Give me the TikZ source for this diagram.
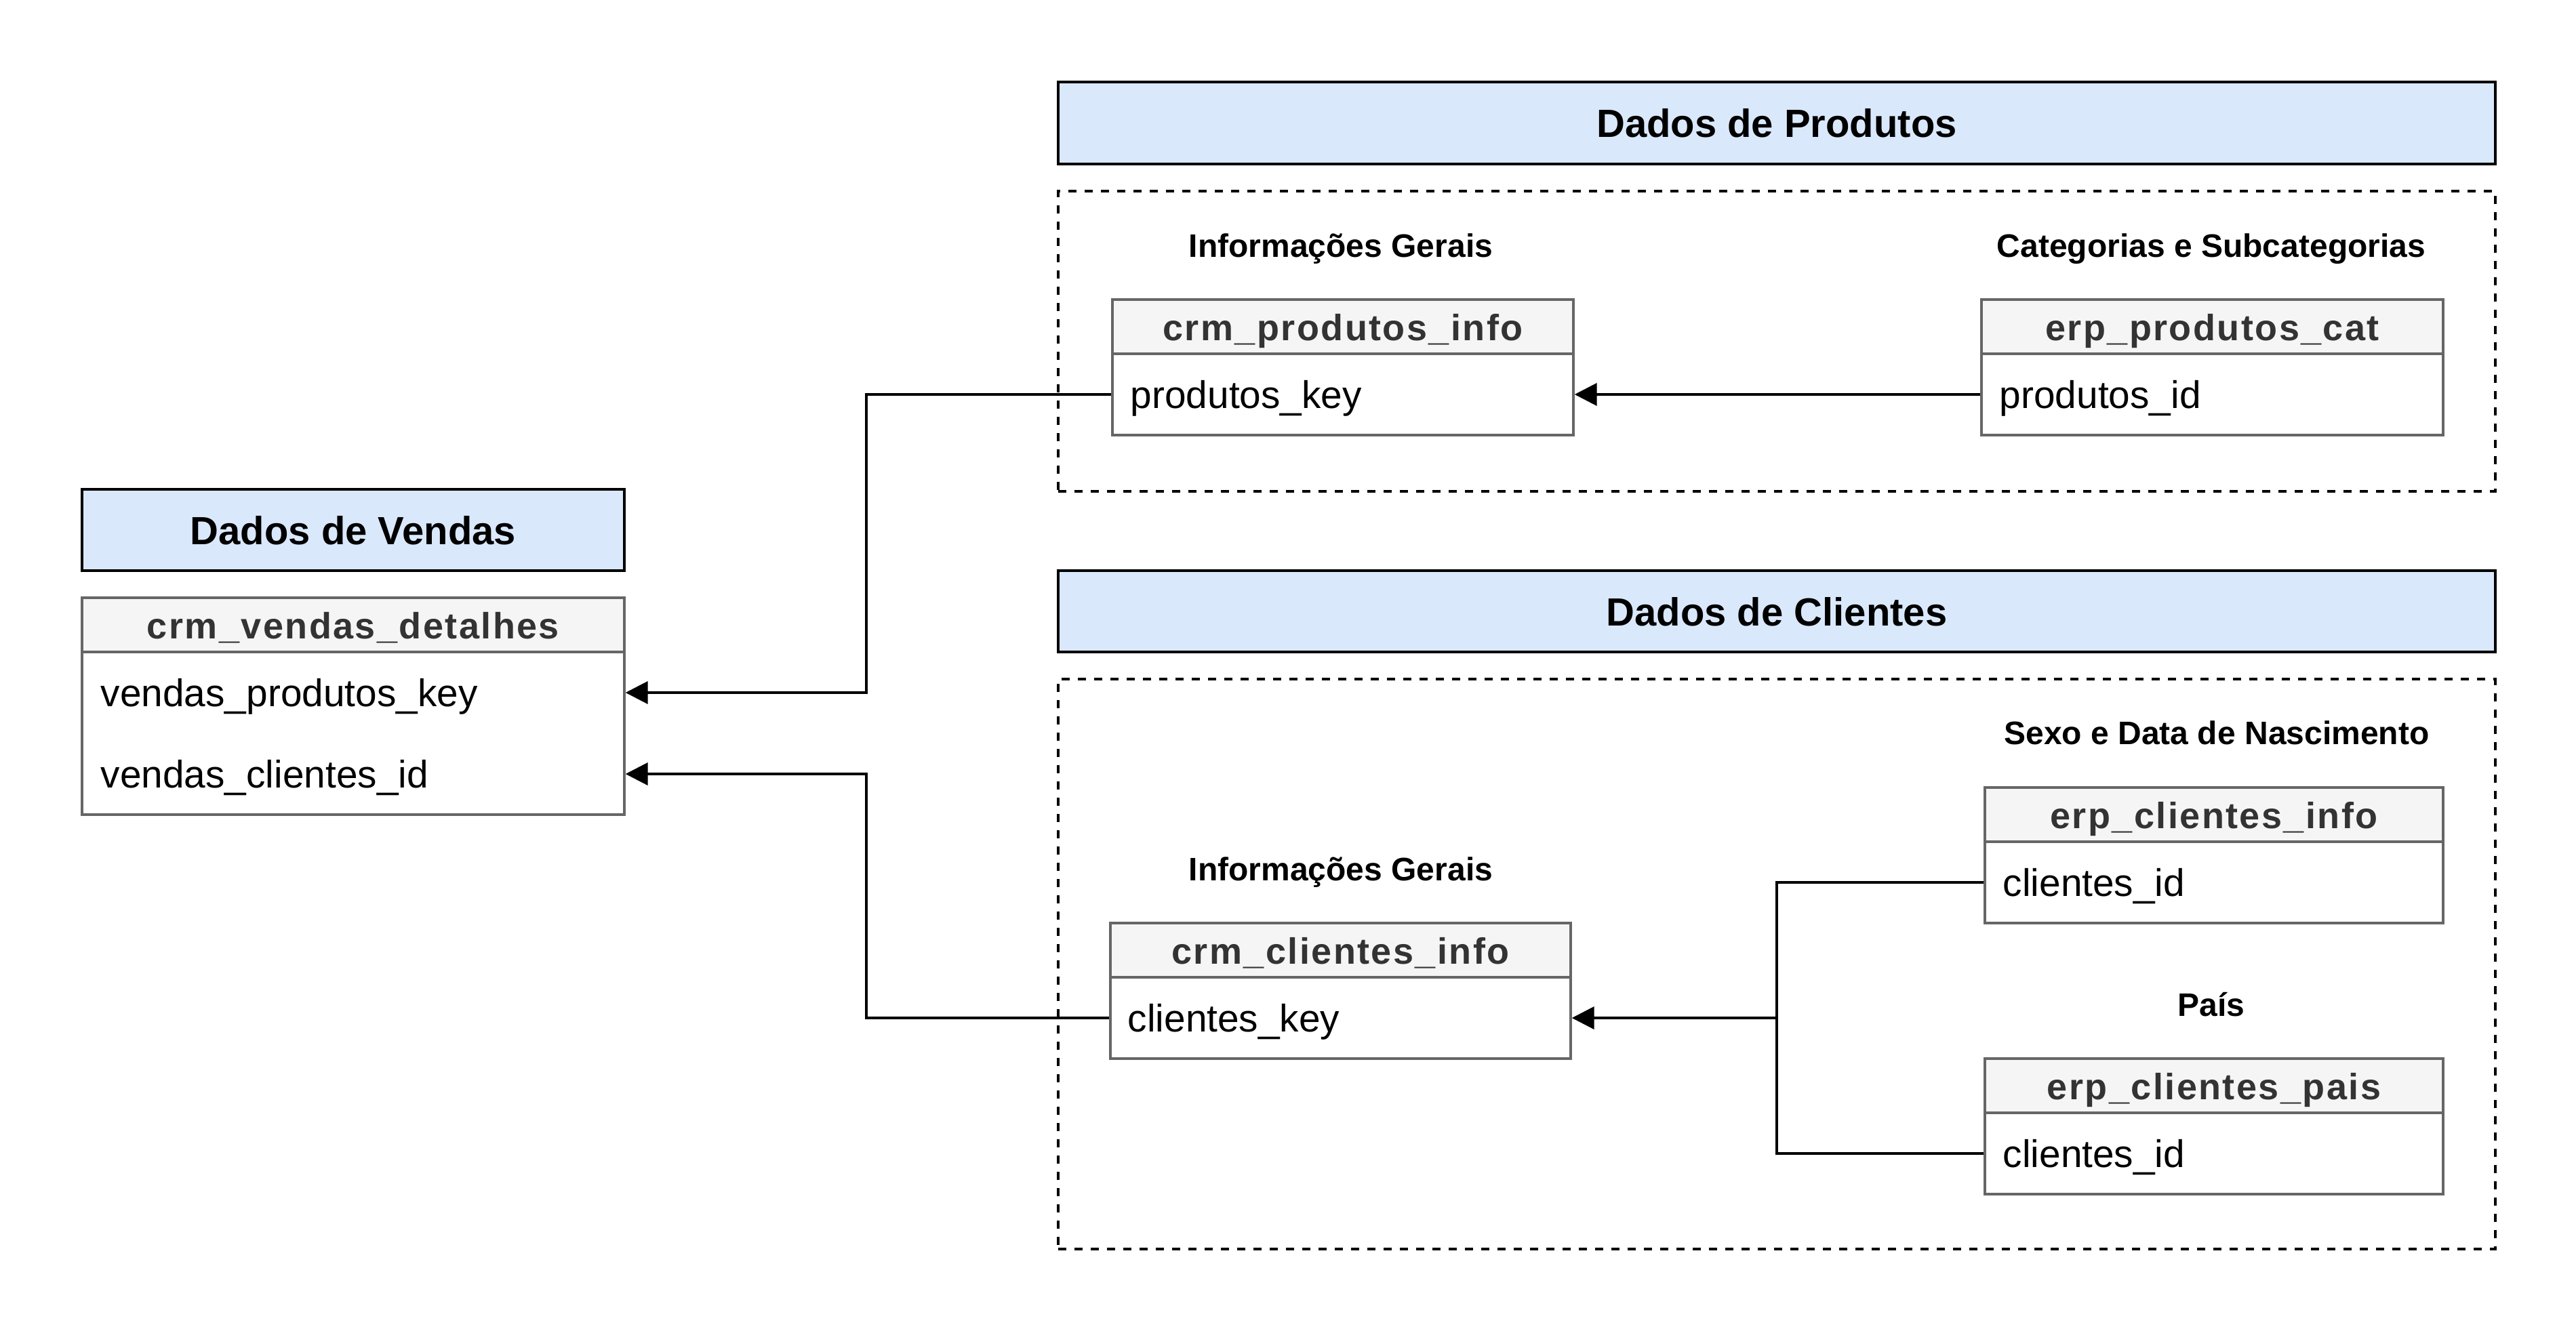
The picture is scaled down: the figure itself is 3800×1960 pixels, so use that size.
\documentclass[tikz,border=0pt]{standalone}
\usepackage{fontspec}
\setmainfont{Liberation Sans}
\newfontfamily\tblfont[LetterSpace=4.5]{Liberation Sans}
\usetikzlibrary{fit,arrows.meta}
\definecolor{hdrblue}{HTML}{DAE8FC}
\definecolor{tblhead}{HTML}{F5F5F5}
\definecolor{tblline}{HTML}{666666}
\definecolor{tbltext}{HTML}{333333}
\begin{document}
\begin{tikzpicture}[x=0.25pt,y=-0.25pt,
  grouphdr/.style={draw=black, fill=hdrblue, line width=1pt, inner sep=0pt},
  grouptxt/.style={anchor=base, inner sep=0pt, yshift=-5.25pt, font=\bfseries\fontsize{14.5}{17}\selectfont},
  groupbox/.style={draw=black, line width=1pt, dash pattern=on 3pt off 3pt, inner sep=0pt},
  tblhdr/.style={draw=tblline, fill=tblhead, line width=0.85pt, inner sep=0pt},
  tblhdrtxt/.style={anchor=base, inner sep=0pt, yshift=-5pt, text=tbltext, font=\tblfont\bfseries\fontsize{13.5}{16}\selectfont},
  tblbody/.style={draw=tblline, fill=white, line width=0.85pt, inner sep=0pt},
  rowtxt/.style={anchor=base west, inner sep=0pt, yshift=-5pt, font=\fontsize{14.2}{17}\selectfont},
  sublabel/.style={anchor=base, inner sep=0pt, yshift=-4.25pt, font=\bfseries\fontsize{12}{15}\selectfont},
  link/.style={draw=black, line width=1pt},
  fk/.style={link, -{Triangle[length=8.25pt,width=8.25pt]}},
]
\path[fill=white] (0,0) rectangle (3800,1960);
\useasboundingbox (0,0) rectangle (3800,1960);

% ---- Dados de Vendas
\node[grouphdr, fit={(121,722) (921,842)}] (hvendas) {};
\node[grouptxt] (thvendas) at (hvendas.center) {Dados de Vendas};
\node[tblbody, fit={(121,962) (921,1202)}] (vbody) {};
\node[tblhdr, fit={(121,882) (921,962)}] (vhdr) {};
\node[tblhdrtxt] (tvhdr) at (vhdr.center) {crm\_vendas\_detalhes};
\node[rowtxt] (vpk) at (148,1022) {vendas\_produtos\_key};
\node[rowtxt] (vci) at (148,1142) {vendas\_clientes\_id};

% ---- Dados de Produtos
\node[grouphdr, fit={(1561,121) (3681,242)}] (hprod) {};
\node[grouptxt] (thprod) at (hprod.center) {Dados de Produtos};
\node[groupbox, fit={(1561,282) (3681,725)}] (gprod) {};
\node[sublabel] (lprod1) at (1978,362) {Informações Gerais};
\node[sublabel] (lprod2) at (3262,362) {Categorias e Subcategorias};
\node[tblbody, fit={(1641,522) (2321,642)}] (pibody) {};
\node[tblhdr, fit={(1641,442) (2321,522)}] (pihdr) {};
\node[tblhdrtxt] (tpihdr) at (pihdr.center) {crm\_produtos\_info};
\node[rowtxt] (pik) at (1667,582) {produtos\_key};
\node[tblbody, fit={(2923,522) (3604,642)}] (pcbody) {};
\node[tblhdr, fit={(2923,442) (3604,522)}] (pchdr) {};
\node[tblhdrtxt] (tpchdr) at (pchdr.center) {erp\_produtos\_cat};
\node[rowtxt] (pcid) at (2949,582) {produtos\_id};

% ---- Dados de Clientes
\node[grouphdr, fit={(1561,842) (3681,962)}] (hcli) {};
\node[grouptxt] (thcli) at (hcli.center) {Dados de Clientes};
\node[groupbox, fit={(1561,1002) (3681,1843)}] (gcli) {};
\node[sublabel] (lcli1) at (3270,1081) {Sexo e Data de Nascimento};
\node[sublabel] (lcli2) at (1978,1282) {Informações Gerais};
\node[sublabel] (lcli3) at (3262,1482) {País};
\node[tblbody, fit={(2928,1242) (3604,1362)}] (eibody) {};
\node[tblhdr, fit={(2928,1162) (3604,1242)}] (eihdr) {};
\node[tblhdrtxt] (teihdr) at (eihdr.center) {erp\_clientes\_info};
\node[rowtxt] (eiid) at (2954,1302) {clientes\_id};
\node[tblbody, fit={(1638,1442) (2317,1562)}] (cibody) {};
\node[tblhdr, fit={(1638,1362) (2317,1442)}] (cihdr) {};
\node[tblhdrtxt] (tcihdr) at (cihdr.center) {crm\_clientes\_info};
\node[rowtxt] (cik) at (1663,1502) {clientes\_key};
\node[tblbody, fit={(2928,1642) (3604,1762)}] (epbody) {};
\node[tblhdr, fit={(2928,1562) (3604,1642)}] (ephdr) {};
\node[tblhdrtxt] (tephdr) at (ephdr.center) {erp\_clientes\_pais};
\node[rowtxt] (epid) at (2954,1702) {clientes\_id};

% ---- connectors
\draw[fk] (pcbody.west) -- (pibody.east);
\draw[fk] (pibody.west) -- ++(-361,0) |- ([yshift=5pt]vpk.base -| vbody.east);
\draw[fk] (cibody.west) -- ++(-358,0) |- ([yshift=5pt]vci.base -| vbody.east);
\draw[fk] (eibody.west) -- ++(-305,0) |- (cibody.east);
\draw[link] (epbody.west) -- ++(-305,0) -- ++(0,-200);
\end{tikzpicture}
\end{document}
